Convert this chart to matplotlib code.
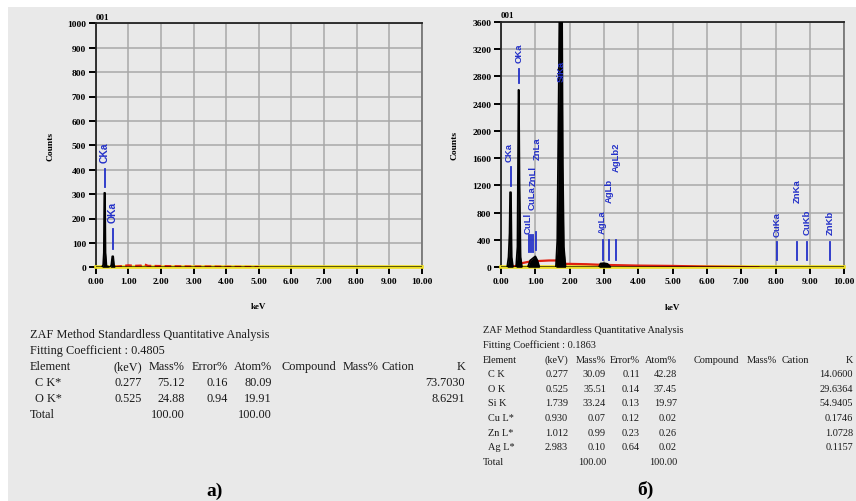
import matplotlib.pyplot as plt
from matplotlib.patches import Rectangle

plt.rcParams['font.family'] = ['Liberation Serif', 'DejaVu Serif']

W, H = 856, 502

# ---- a) spectrum (keV, counts)
a_kev = [0.00, 0.19, 0.23, 0.25, 0.265, 0.285, 0.30, 0.33, 0.45, 0.48, 0.51, 0.535, 0.56, 0.59, 10.00]
a_counts = [0, 0, 10, 60, 305, 305, 60, 5, 0, 10, 45, 45, 10, 0, 0]
a_bg_kev = [0.60, 0.80, 1.00, 1.20, 1.40, 1.50, 1.60, 2.00, 2.50, 3.00, 3.50, 4.00, 5.00]
a_bg_counts = [2, 5, 8, 6, 7, 12, 6, 5, 4, 3, 3, 2, 1]
a_lines = ['CKa', 'OKa']
a_line_kev = [0.277, 0.525]
a_mark_lo = [330, 75]
a_mark_hi = [403, 157]
a_label_counts = [431, 185]

# ---- б) spectrum
b_kev = [0.00, 0.18, 0.22, 0.25, 0.265, 0.29, 0.31, 0.35,
         0.44, 0.48, 0.51, 0.52, 0.54, 0.57, 0.61,
         0.78, 0.85, 0.90, 0.95, 1.00, 1.06, 1.12,
         1.60, 1.64, 1.68, 1.70, 1.78, 1.80, 1.83, 1.88,
         2.85, 2.90, 3.00, 3.10, 3.20, 10.00]
b_counts = [0, 0, 150, 500, 1100, 1100, 150, 0,
            0, 300, 2600, 2600, 1200, 150, 0,
            0, 100, 120, 140, 160, 100, 0,
            0, 400, 2500, 3600, 3600, 1500, 300, 0,
            0, 55, 60, 50, 0, 0]
b_bg_kev = [0.35, 0.50, 0.60, 0.80, 1.00, 1.20, 1.40, 1.60, 1.90, 2.00, 2.50, 3.00,
            3.50, 4.00, 5.00, 6.00, 7.00, 7.50]
b_bg_counts = [10, 30, 60, 80, 90, 95, 100, 100, 50, 50, 45, 35, 30, 25, 20, 10, 5, 0]
b_lines = ['CKa', 'OKa', 'SiKa', 'CuLl', 'CuLa', 'ZnLl', 'ZnLa',
           'AgLa', 'AgLb', 'AgLb2', 'CuKa', 'ZnKa', 'CuKb', 'ZnKb']
b_line_kev = [0.277, 0.525, 1.739, 0.811, 0.930, 0.884, 1.012,
              2.984, 3.151, 3.348, 8.040, 8.630, 8.904, 9.570]
b_label_kev = [0.24, 0.525, 1.739, 0.80, 0.90, 0.93, 1.06,
               2.96, 3.15, 3.37, 8.04, 8.63, 8.92, 9.58]
b_mark_lo = [1190, 2700, None, 220, 220, 220, 250, 100, 100, 100, 100, 100, 100, 100]
b_mark_hi = [1470, 2900, None, 480, 480, 480, 520, 400, 400, 400, 370, 370, 370, 370]
b_label_counts = [1560, 3010, 2730, 500, 850, 1210, 1590, 510, 960, 1410, 460, 960, 490, 490]

# ---- tables
tbl_header = ['Element', '(keV)', 'Mass%', 'Error%', 'Atom%', 'Compound', 'Mass%', 'Cation', 'K']
a_fit = '0.4805'
a_elem = ['C K*', 'O K*']
a_tbl_kev = [0.277, 0.525]
a_mass = [75.12, 24.88]
a_err = [0.16, 0.94]
a_atom = [80.09, 19.91]
a_k = [73.7030, 8.6291]

b_fit = '0.1863'
b_elem = ['C K', 'O K', 'Si K', 'Cu L*', 'Zn L*', 'Ag L*']
b_tbl_kev = [0.277, 0.525, 1.739, 0.930, 1.012, 2.983]
b_mass = [30.09, 35.51, 33.24, 0.07, 0.99, 0.10]
b_err = [0.11, 0.14, 0.13, 0.12, 0.23, 0.64]
b_atom = [42.28, 37.45, 19.97, 0.02, 0.26, 0.02]
b_k = [14.0600, 29.6364, 54.9405, 0.1746, 1.0728, 0.1157]

BG = '#e9e9e9'
BLUE = '#2330c8'

fig = plt.figure(figsize=(W / 100, H / 100), dpi=100, facecolor='white')
fig.patches.append(Rectangle((8 / W, 0), 1, 1 - 8 / H, transform=fig.transFigure,
                             facecolor=BG, edgecolor='none', zorder=-10))


def px_axes(x0, y0, x1, y1):
    return fig.add_axes([x0 / W, 1 - y1 / H, (x1 - x0) / W, (y1 - y0) / H])


def ftext(x, y, s, **kw):
    fig.text(x / W, 1 - y / H, s, **kw)


def spectrum(ax, kev, counts, bg_kev, bg_counts, ymax, ystep, lines, line_kev, label_kev,
             mlo, mhi, lab, dashed, lfs):
    ax.set_facecolor(BG)
    ax.set_xlim(0, 10)
    ax.set_ylim(0, ymax)
    ax.set_xticks(range(0, 11))
    ax.set_xticklabels(['%.2f' % v for v in range(0, 11)])
    ax.set_yticks(range(0, ymax + 1, ystep))
    ax.grid(True, color='#a8a8a8', lw=1.1)
    ax.set_axisbelow(True)
    for s in ax.spines.values():
        s.set_color('#222222')
        s.set_linewidth(1.3)
    ax.spines['right'].set_color('#777777')
    ax.tick_params(direction='out', length=5, width=1.4, labelsize=6.8, pad=2)
    for t in ax.get_xticklabels() + ax.get_yticklabels():
        t.set_fontweight('bold')
    ax.plot([0, 10], [0, 0], color='#f0e020', lw=2.6, zorder=3, clip_on=False)
    ax.plot(bg_kev, bg_counts, color='#e02010', lw=1.6, zorder=4,
            ls=(0, (3, 1.5)) if dashed else '-')
    ax.fill_between(kev, counts, color='black', zorder=5, lw=0)
    ax.plot(kev, counts, color='black', lw=1.3, zorder=5)
    for name, e, le, lo, hi, ly in zip(lines, line_kev, label_kev, mlo, mhi, lab):
        if lo is not None:
            ax.plot([e, e], [lo, hi], color=BLUE, lw=1.3, zorder=6)
        ax.text(le, ly, name, rotation=90, ha='center', va='bottom', color=BLUE,
                fontsize=lfs, fontweight='bold', family=['Liberation Sans'], zorder=7)
    ax.text(0.0, 1.01, '001', transform=ax.transAxes, fontsize=6.5,
            fontweight='bold', ha='left', va='bottom')
    ax.set_ylabel('Counts', fontsize=6.8, fontweight='bold')
    ax.set_xlabel('keV', fontsize=6.5, fontweight='bold', labelpad=12)


ax1 = px_axes(95.7, 24.3, 421.7, 268.3)
spectrum(ax1, a_kev, a_counts, a_bg_kev, a_bg_counts, 1000, 100, a_lines, a_line_kev,
         a_line_kev, a_mark_lo, a_mark_hi, a_label_counts, True, 7.5)
ax1.yaxis.set_label_coords(-0.125, 0.5)

ax2 = px_axes(501, 22.7, 844.3, 268.3)
spectrum(ax2, b_kev, b_counts, b_bg_kev, b_bg_counts, 3600, 400, b_lines, b_line_kev,
         b_label_kev, b_mark_lo, b_mark_hi, b_label_counts, False, 6.8)
ax2.yaxis.set_label_coords(-0.125, 0.5)
ax2.xaxis.set_label_coords(0.5, -0.145)


def table(x_left, col_x, rows_y, fs, fit, elem, kev, mass, err, atom, k, k_col_x, k_rows):
    kw = dict(fontsize=fs, color='#1a1a1a', va='center')
    ftext(x_left, rows_y[0], 'ZAF Method Standardless Quantitative Analysis', ha='left', **kw)
    ftext(x_left, rows_y[1], 'Fitting Coefficient : ' + fit, ha='left', **kw)
    ftext(x_left, rows_y[2], tbl_header[0], ha='left', **kw)
    for i, h in enumerate(tbl_header[1:5]):
        ftext(col_x[i], rows_y[2], h, ha='right', **kw)
    for i, h in enumerate(tbl_header[5:8]):
        ftext(col_x[4 + i], rows_y[2], h, ha='left', **kw)
    ftext(k_col_x, k_rows[0], tbl_header[8], ha='right', **kw)
    for j, e in enumerate(elem):
        y = rows_y[3 + j]
        ftext(x_left + 5, y, e, ha='left', **kw)
        ftext(col_x[0], y, '%.3f' % kev[j], ha='right', **kw)
        ftext(col_x[1], y, '%.2f' % mass[j], ha='right', **kw)
        ftext(col_x[2], y, '%.2f' % err[j], ha='right', **kw)
        ftext(col_x[3], y, '%.2f' % atom[j], ha='right', **kw)
        ftext(k_col_x, k_rows[1 + j], '%.4f' % k[j], ha='right', **kw)
    y = rows_y[3 + len(elem)]
    ftext(x_left, y, 'Total', ha='left', **kw)
    ftext(col_x[1], y, '100.00', ha='right', **kw)
    ftext(col_x[3], y, '100.00', ha='right', **kw)


a_rows = [335 + 16 * i for i in range(6)]
table(30, [142, 185, 228, 272, 281, 343, 382], a_rows, 8.8, a_fit, a_elem, a_tbl_kev,
      a_mass, a_err, a_atom, a_k, 465, a_rows[2:5])

b_rows = [331 + 14.6 * i for i in range(10)]
table(483, [568, 606, 640, 677, 694, 747, 782], b_rows, 7.4, b_fit, b_elem, b_tbl_kev,
      b_mass, b_err, b_atom, b_k, 853, b_rows[2:9])

ftext(215, 491, 'a)', fontsize=14, fontweight='bold', ha='center', va='center')
ftext(645, 490, 'б)', fontsize=14, fontweight='bold', ha='center', va='center')

fig.savefig('out.png', dpi=100, facecolor=fig.get_facecolor())
